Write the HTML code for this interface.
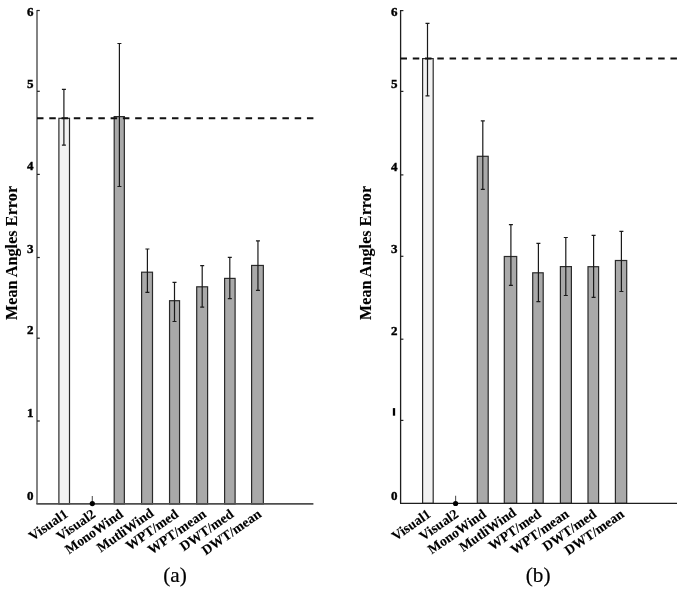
<!DOCTYPE html>
<html><head><meta charset="utf-8"><style>
html,body{margin:0;padding:0;background:#fff;}
body{width:685px;height:593px;overflow:hidden;}
svg{display:block;filter:grayscale(1) blur(0.3px);}
.b{font-family:"Liberation Serif",serif;font-weight:bold;fill:#000;stroke:#000;stroke-width:0.1px;}
.r{font-family:"Liberation Serif",serif;fill:#000;stroke:#000;stroke-width:0.2px;}
</style></head><body>
<svg width="685" height="593" viewBox="0 0 685 593">
<rect width="685" height="593" fill="#fff"/>
<rect x="58.90" y="118.30" width="10.60" height="385.60" fill="#f2f2f2" stroke="#2a2a2a" stroke-width="1.2"/>
<rect x="114.20" y="116.60" width="10.15" height="387.30" fill="#a9a9a9" stroke="#2a2a2a" stroke-width="1.2"/>
<rect x="141.60" y="272.20" width="10.90" height="231.70" fill="#a9a9a9" stroke="#2a2a2a" stroke-width="1.2"/>
<rect x="169.55" y="300.70" width="10.00" height="203.20" fill="#a9a9a9" stroke="#2a2a2a" stroke-width="1.2"/>
<rect x="196.70" y="286.80" width="10.90" height="217.10" fill="#a9a9a9" stroke="#2a2a2a" stroke-width="1.2"/>
<rect x="224.60" y="278.40" width="10.50" height="225.50" fill="#a9a9a9" stroke="#2a2a2a" stroke-width="1.2"/>
<rect x="251.60" y="265.45" width="11.75" height="238.45" fill="#a9a9a9" stroke="#2a2a2a" stroke-width="1.2"/>
<line x1="37.0" y1="10.0" x2="37.0" y2="503.9" stroke="#5a5a5a" stroke-width="1.5"/>
<line x1="37.0" y1="10.5" x2="39.8" y2="10.5" stroke="#222" stroke-width="1.2"/>
<line x1="37.0" y1="91.3" x2="39.8" y2="91.3" stroke="#222" stroke-width="1.2"/>
<line x1="37.0" y1="174.4" x2="39.8" y2="174.4" stroke="#222" stroke-width="1.2"/>
<line x1="37.0" y1="257.5" x2="39.8" y2="257.5" stroke="#222" stroke-width="1.2"/>
<line x1="37.0" y1="338.2" x2="39.8" y2="338.2" stroke="#222" stroke-width="1.2"/>
<line x1="37.0" y1="421.0" x2="39.8" y2="421.0" stroke="#222" stroke-width="1.2"/>
<line x1="36.4" y1="503.9" x2="313.4" y2="503.9" stroke="#4e4e4e" stroke-width="1.9"/>
<line x1="37.0" y1="118.2" x2="313.4" y2="118.2" stroke="#111" stroke-width="2" stroke-dasharray="6.5 5.77"/>
<path d="M63.9 89.4V145.2M61.9 89.4H65.9M61.9 145.2H65.9" stroke="#1a1a1a" stroke-width="1.2" fill="none"/>
<path d="M119.4 43.5V186.5M117.4 43.5H121.4M117.4 186.5H121.4" stroke="#1a1a1a" stroke-width="1.2" fill="none"/>
<path d="M147.4 249V292.3M145.4 249H149.4M145.4 292.3H149.4" stroke="#1a1a1a" stroke-width="1.2" fill="none"/>
<path d="M174.5 282.4V321.5M172.5 282.4H176.5M172.5 321.5H176.5" stroke="#1a1a1a" stroke-width="1.2" fill="none"/>
<path d="M202.2 265.6V307.1M200.2 265.6H204.2M200.2 307.1H204.2" stroke="#1a1a1a" stroke-width="1.2" fill="none"/>
<path d="M229.8 257.3V298.6M227.8 257.3H231.8M227.8 298.6H231.8" stroke="#1a1a1a" stroke-width="1.2" fill="none"/>
<path d="M257.95 240.8V290.3M255.95 240.8H259.95M255.95 290.3H259.95" stroke="#1a1a1a" stroke-width="1.2" fill="none"/>
<line x1="92.3" y1="495.90000000000003" x2="92.3" y2="503.6" stroke="#555" stroke-width="1.1"/>
<circle cx="92.3" cy="503.6" r="2.6" fill="#000"/>
<text x="33.6" y="500.3" text-anchor="end" class="b" style="stroke-width:0.4px" font-size="13">0</text>
<text x="33.6" y="417.1" text-anchor="end" class="b" style="stroke-width:0.4px" font-size="13">1</text>
<text x="33.6" y="334.3" text-anchor="end" class="b" style="stroke-width:0.4px" font-size="13">2</text>
<text x="33.6" y="253.3" text-anchor="end" class="b" style="stroke-width:0.4px" font-size="13">3</text>
<text x="33.6" y="170.3" text-anchor="end" class="b" style="stroke-width:0.4px" font-size="13">4</text>
<text x="33.6" y="87.5" text-anchor="end" class="b" style="stroke-width:0.4px" font-size="13">5</text>
<text x="33.6" y="15.8" text-anchor="end" class="b" style="stroke-width:0.4px" font-size="13">6</text>
<text x="68.82" y="516.00" text-anchor="end" class="b" font-size="13.8" transform="rotate(-35 68.82 516.00)">Visual1</text>
<text x="96.45" y="516.00" text-anchor="end" class="b" font-size="13.8" transform="rotate(-35 96.45 516.00)">Visual2</text>
<text x="124.08" y="516.00" text-anchor="end" class="b" font-size="13.8" transform="rotate(-35 124.08 516.00)">MonoWind</text>
<text x="154.57" y="515.05" text-anchor="end" class="b" font-size="13.8" transform="rotate(-35 154.57 515.05)">MutliWind</text>
<text x="179.34" y="516.00" text-anchor="end" class="b" font-size="13.8" transform="rotate(-35 179.34 516.00)">WPT/med</text>
<text x="206.97" y="516.00" text-anchor="end" class="b" font-size="13.8" transform="rotate(-35 206.97 516.00)">WPT/mean</text>
<text x="234.60" y="516.00" text-anchor="end" class="b" font-size="13.8" transform="rotate(-35 234.60 516.00)">DWT/med</text>
<text x="262.23" y="516.00" text-anchor="end" class="b" font-size="13.8" transform="rotate(-35 262.23 516.00)">DWT/mean</text>
<text transform="translate(16.7 252.95) rotate(-90)" text-anchor="middle" class="b" style="stroke-width:0.1px;letter-spacing:0.12px" font-size="16.0">Mean Angles Error</text>
<text x="175.0" y="581.6" text-anchor="middle" class="r" font-size="21.2">(a)</text>
<rect x="422.60" y="58.60" width="10.60" height="444.75" fill="#f2f2f2" stroke="#2a2a2a" stroke-width="1.2"/>
<rect x="477.30" y="156.30" width="10.90" height="347.05" fill="#a9a9a9" stroke="#2a2a2a" stroke-width="1.2"/>
<rect x="504.30" y="256.50" width="12.40" height="246.85" fill="#a9a9a9" stroke="#2a2a2a" stroke-width="1.2"/>
<rect x="532.70" y="272.80" width="10.50" height="230.55" fill="#a9a9a9" stroke="#2a2a2a" stroke-width="1.2"/>
<rect x="560.40" y="266.60" width="11.00" height="236.75" fill="#a9a9a9" stroke="#2a2a2a" stroke-width="1.2"/>
<rect x="588.00" y="266.70" width="10.60" height="236.65" fill="#a9a9a9" stroke="#2a2a2a" stroke-width="1.2"/>
<rect x="615.40" y="260.50" width="11.30" height="242.85" fill="#a9a9a9" stroke="#2a2a2a" stroke-width="1.2"/>
<line x1="400.6" y1="10.0" x2="400.6" y2="503.35" stroke="#1e1e1e" stroke-width="1.3"/>
<line x1="400.6" y1="10.6" x2="403.40000000000003" y2="10.6" stroke="#222" stroke-width="1.2"/>
<line x1="400.6" y1="91.4" x2="403.40000000000003" y2="91.4" stroke="#222" stroke-width="1.2"/>
<line x1="400.6" y1="174.9" x2="403.40000000000003" y2="174.9" stroke="#222" stroke-width="1.2"/>
<line x1="400.6" y1="256.3" x2="403.40000000000003" y2="256.3" stroke="#222" stroke-width="1.2"/>
<line x1="400.6" y1="339.2" x2="403.40000000000003" y2="339.2" stroke="#222" stroke-width="1.2"/>
<line x1="400.6" y1="420.4" x2="403.40000000000003" y2="420.4" stroke="#222" stroke-width="1.2"/>
<line x1="400.0" y1="503.35" x2="677.0" y2="503.35" stroke="#1e1e1e" stroke-width="1.4"/>
<line x1="400.5" y1="58.6" x2="677.0" y2="58.6" stroke="#111" stroke-width="2" stroke-dasharray="6.5 5.77"/>
<path d="M427.5 23.3V95.9M425.5 23.3H429.5M425.5 95.9H429.5" stroke="#1a1a1a" stroke-width="1.2" fill="none"/>
<path d="M482.8 120.9V189.3M480.8 120.9H484.8M480.8 189.3H484.8" stroke="#1a1a1a" stroke-width="1.2" fill="none"/>
<path d="M510.9 224.7V285.3M508.9 224.7H512.9M508.9 285.3H512.9" stroke="#1a1a1a" stroke-width="1.2" fill="none"/>
<path d="M538.4 243.3V301.7M536.4 243.3H540.4M536.4 301.7H540.4" stroke="#1a1a1a" stroke-width="1.2" fill="none"/>
<path d="M565.8 237.5V295.5M563.8 237.5H567.8M563.8 295.5H567.8" stroke="#1a1a1a" stroke-width="1.2" fill="none"/>
<path d="M593.6 235.4V297.4M591.6 235.4H595.6M591.6 297.4H595.6" stroke="#1a1a1a" stroke-width="1.2" fill="none"/>
<path d="M621.4 231.3V291.5M619.4 231.3H623.4M619.4 291.5H623.4" stroke="#1a1a1a" stroke-width="1.2" fill="none"/>
<line x1="455.6" y1="495.8" x2="455.6" y2="503.5" stroke="#555" stroke-width="1.1"/>
<circle cx="455.6" cy="503.5" r="2.6" fill="#000"/>
<text x="397.6" y="500.3" text-anchor="end" class="b" style="stroke-width:0.4px" font-size="13">0</text>
<rect x="392.85" y="408.1" width="2.3" height="7.599999999999966" fill="#000"/>
<text x="397.6" y="335.3" text-anchor="end" class="b" style="stroke-width:0.4px" font-size="13">2</text>
<text x="397.6" y="252.5" text-anchor="end" class="b" style="stroke-width:0.4px" font-size="13">3</text>
<text x="397.6" y="171.0" text-anchor="end" class="b" style="stroke-width:0.4px" font-size="13">4</text>
<text x="397.6" y="88.0" text-anchor="end" class="b" style="stroke-width:0.4px" font-size="13">5</text>
<text x="397.6" y="15.8" text-anchor="end" class="b" style="stroke-width:0.4px" font-size="13">6</text>
<text x="431.72" y="516.00" text-anchor="end" class="b" font-size="13.8" transform="rotate(-35 431.72 516.00)">Visual1</text>
<text x="459.33" y="516.00" text-anchor="end" class="b" font-size="13.8" transform="rotate(-35 459.33 516.00)">Visual2</text>
<text x="486.93" y="516.00" text-anchor="end" class="b" font-size="13.8" transform="rotate(-35 486.93 516.00)">MonoWind</text>
<text x="516.99" y="514.55" text-anchor="end" class="b" font-size="13.8" transform="rotate(-35 516.99 514.55)">MutliWind</text>
<text x="542.14" y="516.00" text-anchor="end" class="b" font-size="13.8" transform="rotate(-35 542.14 516.00)">WPT/med</text>
<text x="569.75" y="516.00" text-anchor="end" class="b" font-size="13.8" transform="rotate(-35 569.75 516.00)">WPT/mean</text>
<text x="597.35" y="516.00" text-anchor="end" class="b" font-size="13.8" transform="rotate(-35 597.35 516.00)">DWT/med</text>
<text x="624.96" y="516.00" text-anchor="end" class="b" font-size="13.8" transform="rotate(-35 624.96 516.00)">DWT/mean</text>
<text transform="translate(371.4 252.95) rotate(-90)" text-anchor="middle" class="b" style="stroke-width:0.1px;letter-spacing:0.12px" font-size="16.0">Mean Angles Error</text>
<text x="538.1" y="581.6" text-anchor="middle" class="r" font-size="21.2">(b)</text>
</svg>
</body></html>
